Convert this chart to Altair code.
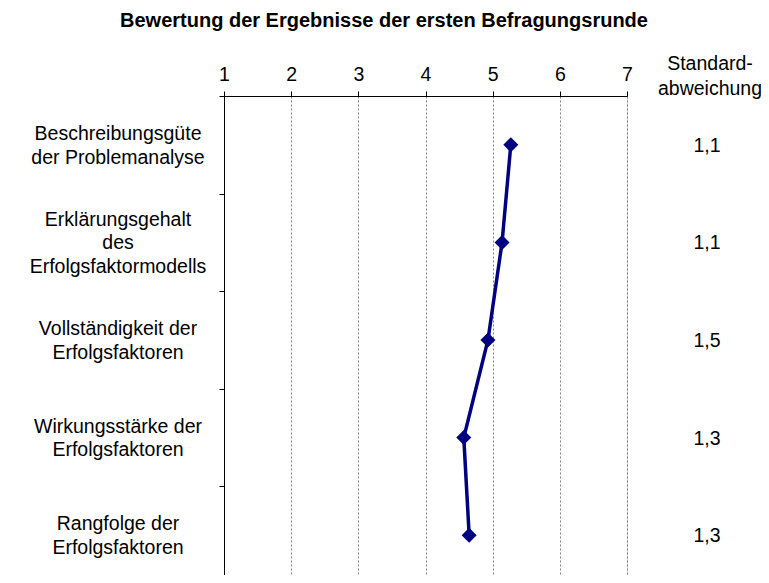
import altair as alt
import pandas as pd

categories = [
    "Beschreibungsgüte\nder Problemanalyse",
    "Erklärungsgehalt\ndes\nErfolgsfaktormodells",
    "Vollständigkeit der\nErfolgsfaktoren",
    "Wirkungsstärke der\nErfolgsfaktoren",
    "Rangfolge der\nErfolgsfaktoren",
]
means = [5.27, 5.14, 4.93, 4.57, 4.65]
std_labels = ["1,1", "1,1", "1,5", "1,3", "1,3"]
x_ticks = [1, 2, 3, 4, 5, 6, 7]
title_text = "Bewertung der Ergebnisse der ersten Befragungsrunde"
std_header = "Standard-\nabweichung"

df = pd.DataFrame({
    "cat": categories,
    "mean": means,
    "std": std_labels,
    "idx": list(range(len(categories))),
    "nlines": [c.count("\n") + 1 for c in categories],
})

FONT = "Liberation Sans"
FS = 19.5
LH = 23.5
W, H = 403, 479
NAVY = "#000080"

y_sorted = alt.Y("cat:N", sort=categories)
y_enc = alt.Y("cat:N", sort=categories, title=None,
              scale=alt.Scale(range=[0, 488], paddingInner=0, paddingOuter=0),
              axis=alt.Axis(labels=False, tickBand="extent", tickSize=5,
                            domainColor="black", tickColor="black", grid=False,
                            domainWidth=1))
x_enc = alt.X("mean:Q", title=None,
              scale=alt.Scale(domain=[1, 7], nice=False, zero=False),
              axis=alt.Axis(orient="top", values=x_ticks, format="d",
                            tickSize=5, labelPadding=7, labelFontSize=FS,
                            labelFont=FONT, labelColor="black",
                            domainColor="black", tickColor="black",
                            grid=True, gridColor="#808080", gridDash=[2, 2],
                            gridWidth=1, labelFlush=False))

base = alt.Chart(df)

line = base.mark_line(color=NAVY, strokeWidth=3.5).encode(
    x=x_enc, y=y_enc, order=alt.Order("idx:Q"))
points = base.mark_point(shape="diamond", filled=True, color=NAVY,
                         size=225, opacity=1).encode(x="mean:Q", y=y_sorted)

label_layers = []
for n in sorted(set(df["nlines"])):
    label_layers.append(
        base.transform_filter(alt.datum.nlines == n).mark_text(
            lineBreak="\n", fontSize=FS, font=FONT, align="center",
            baseline="middle", lineHeight=LH, color="black",
            dy=-(n - 1) * LH / 2 + 1,
        ).encode(x=alt.value(-106), y=y_sorted, text="cat:N")
    )

std_text = base.mark_text(fontSize=FS, font=FONT, align="center",
                          baseline="middle", color="black", dy=1).encode(
    x=alt.value(483), y=y_sorted, text="std:N")

hdr = alt.Chart(pd.DataFrame({"t": [std_header]})).mark_text(
    lineBreak="\n", fontSize=FS, font=FONT, align="center",
    baseline="middle", lineHeight=24.5, color="black").encode(
    x=alt.value(486), y=alt.value(-32), text="t:N")
ttl = alt.Chart(pd.DataFrame({"t": [title_text]})).mark_text(
    fontSize=20, font=FONT, fontWeight="bold", align="center",
    baseline="middle", color="black").encode(
    x=alt.value(160), y=alt.value(-75), text="t:N")

chart = alt.layer(line, points, *label_layers, std_text, hdr, ttl).properties(
    width=W, height=H,
    autosize=alt.AutoSizeParams(type="none"),
    padding={"left": 216, "top": 88, "right": 134, "bottom": 0},
).configure_view(stroke=None).configure(background="white")

chart.save("out.html", embed_options={"renderer": "svg", "actions": False})
